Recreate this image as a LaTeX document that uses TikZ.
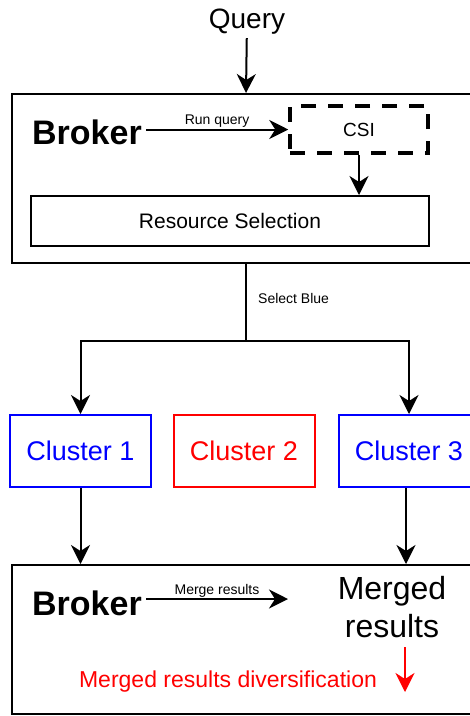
\documentclass[tikz,border=0pt]{standalone}
\usepackage{fontspec}
\setmainfont{Liberation Sans}
\usetikzlibrary{arrows.meta}

\definecolor{cblue}{RGB}{0,0,255}
\definecolor{cred}{RGB}{255,0,0}

\tikzset{
  arr/.style={line width=2pt, -{Stealth[length=19pt, width=19pt, inset=6pt]}},
  box/.style={draw, line width=2pt, inner sep=0pt},
  dashbox/.style={draw, line width=3.5pt, dash pattern=on 15pt off 12pt, inner sep=0pt},
  clbox/.style={draw=#1, text=#1, line width=2pt, inner sep=0pt,
    minimum width=141pt, minimum height=72pt, font=\fontsize{27}{32}\selectfont},
  big/.style={font=\fontsize{#1}{1.2*#1}\selectfont},
  bold/.style={font=\fontsize{34}{40}\selectfont\bfseries, inner sep=0pt},
  small/.style={font=\fontsize{14}{16}\selectfont, inner sep=1pt},
}

\begin{document}
\begin{tikzpicture}[x=1pt, y=-1pt]
\useasboundingbox (0,0) rectangle (470,716);
\clip (0,0) rectangle (470,716);

% query entering the broker
\node[anchor=base, inner sep=4pt, font=\fontsize{28}{32}\selectfont] (query) at (247,28) {Query};
\node[box, minimum width=468pt, minimum height=169pt] (top) at (246,178.5) {};
\draw[arr] (query) -- (top.north);

% broker internals
\node[bold, anchor=base, inner xsep=4pt] (brok1) at (87,144) {Broker};
\node[dashbox, minimum width=138pt, minimum height=47pt, font=\fontsize{19}{22}\selectfont] (csi) at (359,129.5) {CSI};
\node[box, minimum width=398pt, minimum height=50pt, font=\fontsize{21}{25}\selectfont] (res) at (230,221) {Resource Selection};
\draw[arr] (brok1.east |- csi.west) -- node[small, above] {Run query} (csi.west);
\draw[arr] (csi.south) -- (csi.south |- res.north);

% clusters
\node[clbox=cblue] (c1) at (80.5,451) {Cluster 1};
\node[clbox=cred]  (c2) at (244,451) {Cluster 2};
\node[clbox=cblue] (c3) at (409,451) {Cluster 3};

\coordinate (split) at (246,341);
\draw[line width=2pt] (top.south) -- (split);
\node[small, anchor=west] (sel) at (257,298) {Select Blue};
\draw[arr] (split) -| (c1.north);
\draw[arr] (split) -| (c3.north);

% merging broker
\node[box, minimum width=468pt, minimum height=149pt] (bot) at (246,639.5) {};
\draw[arr] (c1.south) -- (c1.south |- bot.north);
\draw[arr] ([xshift=-3pt]c3.south) -- ([xshift=-3pt]c3.south |- bot.north);

\node[bold, anchor=base, inner xsep=4pt] (brok2) at (87,615) {Broker};
\coordinate (mend) at (288,599);
\draw[arr] (brok2.east |- mend) -- node[small, above] {Merge results} (mend);
\node[align=center, inner sep=0pt, font=\fontsize{32}{38}\selectfont] (mres) at (392,607) {Merged\\results};

\coordinate (d1) at (405,647);
\coordinate (d2) at (405,692);
\draw[arr, cred] (d1) -- (d2);
\node[anchor=base, inner sep=0pt, text=cred, font=\fontsize{23}{27}\selectfont] (div) at (228,687) {Merged results diversification};
\end{tikzpicture}
\end{document}
